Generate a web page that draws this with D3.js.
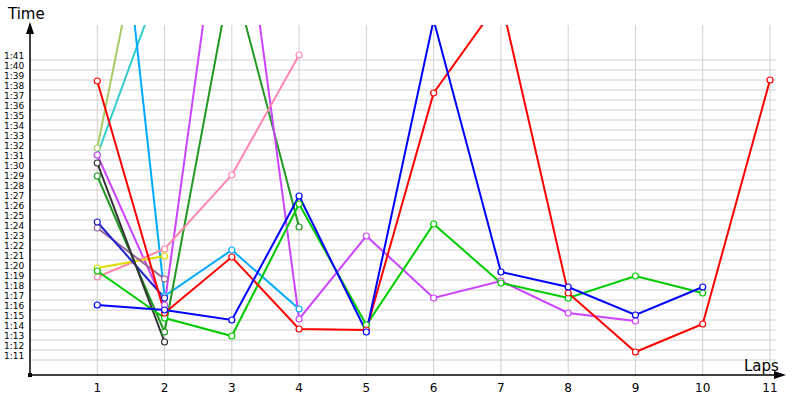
<!DOCTYPE html>
<html><head><meta charset="utf-8">
<script src="https://cdn.jsdelivr.net/npm/d3@7"></script>
<style>body{margin:0;background:#fff}svg{font-family:Tahoma,"DejaVu Sans",sans-serif}</style>
</head><body><svg id="c" width="800" height="400"></svg>
<script>
const laps = [1,2,3,4,5,6,7,8,9,10,11];
const yTicks = d3.range(71,102); // seconds, 1:11..1:41
const series = [
 {name:"lightgreen", color:"#a6cc66", values:[[1,91.7],[2,125]]},
 {name:"cyan", color:"#33cccc", values:[[1,91.0],[2,109.4]]},
 {name:"skyblue", color:"#00aaff", values:[[1,138],[2,76.9],[3,81.5],[4,75.6]]},
 {name:"darkgreen", color:"#229922", values:[[1,88.9],[2,73.3],[3,109.3],[4,83.8]]},
 {name:"purple", color:"#cc44ff", values:[[1,91.0],[2,76.0],[3,125],[4,74.6],[5,82.9],[6,76.7],[7,78.4],[8,75.2],[9,74.4]]},
 {name:"pink", color:"#ff88aa", values:[[1,78.8],[2,81.6],[3,89.0],[4,101.0]]},
 {name:"yellow", color:"#dddd00", values:[[1,79.7],[2,80.9]]},
 {name:"mauve", color:"#996699", values:[[1,83.7],[2,78.6]]},
 {name:"navy", color:"#2222cc", values:[[1,84.3],[2,76.7]]},
 {name:"grey", color:"#333333", values:[[1,90.2],[2,72.3]]},
 {name:"green", color:"#00cc00", values:[[1,79.4],[2,74.7],[3,72.9],[4,86.1],[5,74.0],[6,84.1],[7,78.2],[8,76.7],[9,78.9],[10,77.2]]},
 {name:"red", color:"#ff0000", values:[[1,98.4],[2,75.2],[3,80.8],[4,73.6],[5,73.5],[6,97.2],[7,106.6],[8,77.2],[9,71.3],[10,74.1],[11,98.5]]},
 {name:"blue", color:"#0000ff", values:[[1,76.0],[2,75.5],[3,74.5],[4,86.9],[5,73.3],[6,104.5],[7,79.3],[8,77.8],[9,75.0],[10,77.8]]}
];
const svg = d3.select("#c");
const x = d3.scaleLinear().domain([0,11]).range([30,770]);
const y = d3.scaleLinear().domain([69,104]).range([375,25]);
const fmt = s => Math.floor(s/60)+":"+String(s%60).padStart(2,"0");
// grid
svg.append("g").selectAll("line").data(d3.range(70.5,101,1)).join("line")
 .attr("x1",30).attr("x2",776).attr("y1",d=>y(d)).attr("y2",d=>y(d)).attr("stroke","#d0d0d0");
svg.append("g").selectAll("line").data(laps).join("line")
 .attr("x1",d=>x(d)).attr("x2",d=>x(d)).attr("y1",y(104)).attr("y2",375).attr("stroke","#d0d0d0");
// y labels
svg.append("g").selectAll("text").data(yTicks).join("text")
 .attr("x",4).attr("y",d=>y(d)+3.5).attr("font-size",9).attr("fill","#000").text(fmt);
// x labels
svg.append("g").selectAll("text").data(laps).join("text")
 .attr("x",d=>x(d)).attr("y",392).attr("text-anchor","middle").attr("font-size",12).text(d=>d);
// axes
svg.append("line").attr("x1",30).attr("x2",30).attr("y1",375).attr("y2",28).attr("stroke","#000").attr("stroke-width",1.5);
svg.append("path").attr("d","M26,34 L30,22 L34,34 Z").attr("fill","#000");
svg.append("line").attr("x1",30).attr("x2",780).attr("y1",375).attr("y2",375).attr("stroke","#000").attr("stroke-width",1.5);
svg.append("path").attr("d","M774,371 L786,375 L774,379 Z").attr("fill","#000");
svg.append("rect").attr("x",28).attr("y",373).attr("width",4).attr("height",4).attr("fill","#000");
svg.append("text").attr("x",8).attr("y",19).attr("font-size",15).text("Time");
svg.append("text").attr("x",744).attr("y",371).attr("font-size",15).text("Laps");
// clip
svg.append("clipPath").attr("id","cl").append("rect").attr("x",30).attr("y",25).attr("width",760).attr("height",352);
const g = svg.append("g").attr("clip-path","url(#cl)");
const line = d3.line().x(d=>x(d[0])).y(d=>y(d[1]));
series.forEach(s=>{
  g.append("path").attr("d",line(s.values)).attr("fill","none").attr("stroke",s.color).attr("stroke-width",2);
});
series.forEach(s=>{
  g.selectAll(null).data(s.values).join("circle").attr("cx",d=>x(d[0])).attr("cy",d=>y(d[1])).attr("r",3)
   .attr("fill","#fff").attr("stroke",s.color).attr("stroke-width",1.2);
});
</script></body></html>
